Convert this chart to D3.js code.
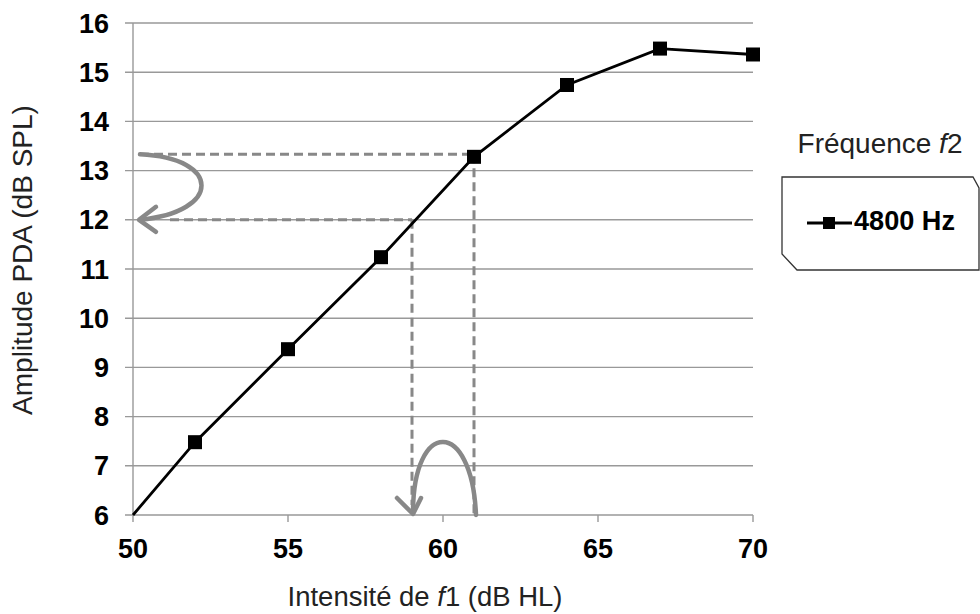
<!DOCTYPE html>
<html><head><meta charset="utf-8">
<script src="https://cdn.jsdelivr.net/npm/d3@7"></script>
<style>body{margin:0;background:#fff}svg{display:block;font-family:"Liberation Sans",Arial,sans-serif}</style>
</head><body><svg id="c" width="980" height="614"></svg>
<script>
const intensity = [50, 52, 55, 58, 61, 64, 67, 70];
const amplitude = [6, 7.48, 9.37, 11.24, 13.28, 14.74, 15.48, 15.36];
const markerShown = [false, true, true, true, true, true, true, true];
const xTicks = [50, 55, 60, 65, 70];
const yTicks = [6, 7, 8, 9, 10, 11, 12, 13, 14, 15, 16];
const seriesName = "4800 Hz";
// reading guides: amplitude 13.33 at 61, 12 at 59
const guideX = [61, 59];
const guideY = [13.33, 12];

const svg = d3.select("#c");
const x = d3.scaleLinear().domain([50, 70]).range([133, 753]);
const y = d3.scaleLinear().domain([6, 16]).range([515, 23]);

function fit(sel, w) {
  const n = sel.node();
  const l = n.getComputedTextLength();
  const fs = parseFloat(sel.attr("font-size"));
  sel.attr("font-size", fs * w / l);
}

// gridlines
svg.append("g").selectAll("line").data(yTicks).join("line")
  .attr("x1", 125).attr("x2", x(70)).attr("y1", d => y(d)).attr("y2", d => y(d))
  .attr("stroke", "#999").attr("stroke-width", 1.4);
svg.append("line").attr("x1", x(50)).attr("x2", x(50)).attr("y1", y(16)).attr("y2", y(6) + 7)
  .attr("stroke", "#999").attr("stroke-width", 1.4);
svg.append("g").selectAll("line").data(xTicks.slice(1)).join("line")
  .attr("x1", d => x(d)).attr("x2", d => x(d)).attr("y1", y(6)).attr("y2", y(6) + 7)
  .attr("stroke", "#999").attr("stroke-width", 1.4);

// tick labels
svg.append("g").selectAll("text").data(yTicks).join("text")
  .attr("x", 109).attr("y", d => y(d) + 9.5).attr("text-anchor", "end")
  .attr("font-size", 27).attr("font-weight", "bold").attr("fill", "#000").text(d => d);
svg.append("g").selectAll("text").data(xTicks).join("text")
  .attr("x", d => x(d)).attr("y", 558).attr("text-anchor", "middle")
  .attr("font-size", 27).attr("font-weight", "bold").attr("fill", "#000").text(d => d);

// axis titles
const yt = svg.append("text").attr("transform", "translate(32,260) rotate(-90)").attr("text-anchor", "middle")
  .attr("font-size", 20).attr("fill", "#222").text("Amplitude PDA  (dB SPL)");
fit(yt, 310);
const xt = svg.append("text").attr("x", 425).attr("y", 606).attr("text-anchor", "middle")
  .attr("font-size", 20).attr("fill", "#222");
xt.append("tspan").text("Intensité de ");
xt.append("tspan").attr("font-style", "italic").text("f");
xt.append("tspan").text("1 (dB HL)");
fit(xt, 275);

// dashed guides
const dash = svg.append("g").attr("stroke", "#888").attr("stroke-width", 3)
  .attr("stroke-dasharray", "9,5").attr("fill", "none");
dash.append("line").attr("x1", 140).attr("x2", x(guideX[0])).attr("y1", y(guideY[0])).attr("y2", y(guideY[0]));
dash.append("line").attr("x1", 170).attr("x2", x(guideX[1])).attr("y1", y(guideY[1])).attr("y2", y(guideY[1]));
dash.append("line").attr("x1", x(guideX[0])).attr("x2", x(guideX[0])).attr("y1", y(guideY[0])).attr("y2", y(6));
dash.append("line").attr("x1", x(guideX[1])).attr("x2", x(guideX[1])).attr("y1", y(guideY[1])).attr("y2", y(6) - 10);

// curved arrows
const arr = svg.append("g").attr("stroke", "#888").attr("stroke-width", 4.5).attr("fill", "none")
  .attr("stroke-linecap", "round").attr("stroke-linejoin", "round");
arr.append("path").attr("d", `M140,${y(guideY[0])} C222,158 222,212 140,${y(guideY[1])}`);
arr.append("path").attr("d", `M156,${y(guideY[1]) - 13} L139,${y(guideY[1])} L156,${y(guideY[1]) + 12}`);
arr.append("path").attr("d", `M${x(guideX[0]) + 2},${y(6)} C472,418 413,418 ${x(guideX[1]) + 1},${y(6) - 2}`);
arr.append("path").attr("d", `M397,${y(6) - 17} L${x(guideX[1]) + 1},${y(6) - 1} L421,${y(6) - 17}`);

// series line
const pts = intensity.map((d, i) => ({x: d, y: amplitude[i], m: markerShown[i]}));
svg.append("path").datum(pts)
  .attr("d", d3.line().x(d => x(d.x)).y(d => y(d.y)))
  .attr("fill", "none").attr("stroke", "#000").attr("stroke-width", 2.8);
svg.append("g").selectAll("rect").data(pts.filter(d => d.m)).join("rect")
  .attr("x", d => x(d.x) - 7).attr("y", d => y(d.y) - 7).attr("width", 14).attr("height", 14)
  .attr("fill", "#000");

// legend
const lt = svg.append("text").attr("x", 880).attr("y", 153).attr("text-anchor", "middle")
  .attr("font-size", 20).attr("fill", "#222");
lt.append("tspan").text("Fréquence ");
lt.append("tspan").attr("font-style", "italic").text("f");
lt.append("tspan").text("2");
fit(lt, 165);
svg.append("path").attr("d", "M782,177 L973,177 L979,188 L979,270 L797,270 L782,254 Z")
  .attr("fill", "#fff").attr("stroke", "#333").attr("stroke-width", 1.3);
svg.append("line").attr("x1", 807).attr("x2", 852).attr("y1", 223).attr("y2", 223)
  .attr("stroke", "#000").attr("stroke-width", 3);
svg.append("rect").attr("x", 823).attr("y", 217).attr("width", 12).attr("height", 12).attr("fill", "#000");
const st = svg.append("text").attr("x", 854).attr("y", 230).attr("font-size", 20).attr("font-weight", "bold")
  .attr("fill", "#000").text(seriesName);
fit(st, 101);
</script></body></html>
